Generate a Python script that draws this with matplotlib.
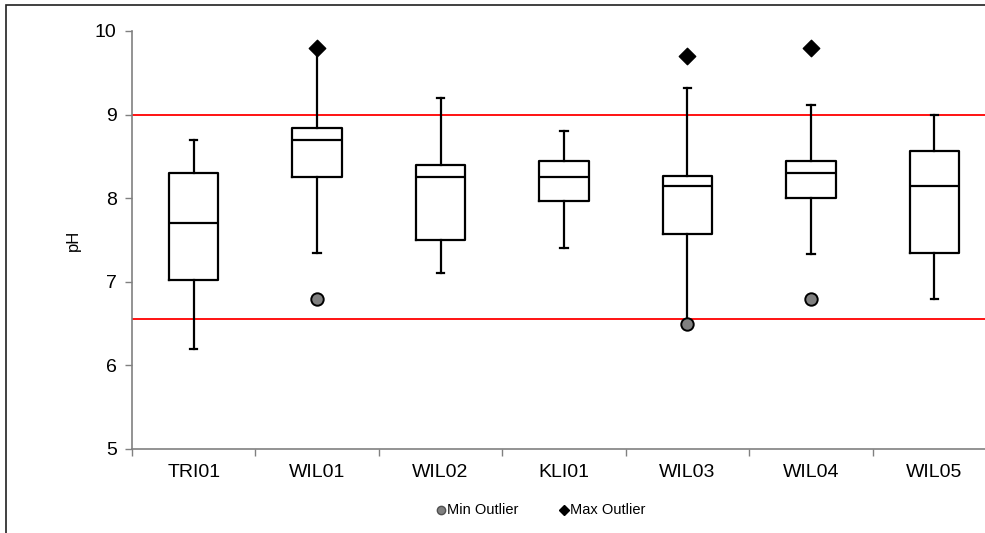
import matplotlib

matplotlib.use("Agg")
import matplotlib.pyplot as plt
from matplotlib.patches import Rectangle

plt.rcParams["font.family"] = ["Liberation Sans", "DejaVu Sans"]

sites = ["TRI01", "WIL01", "WIL02", "KLI01", "WIL03", "WIL04", "WIL05"]
whisk_lo = [6.2, 7.35, 7.1, 7.4, 6.5, 7.33, 6.8]
q1 = [7.02, 8.25, 7.5, 7.97, 7.57, 8.0, 7.35]
median = [7.7, 8.7, 8.25, 8.25, 8.14, 8.3, 8.14]
q3 = [8.3, 8.84, 8.4, 8.45, 8.27, 8.45, 8.57]
whisk_hi = [8.7, 9.8, 9.2, 8.8, 9.32, 9.12, 9.0]
min_outlier = [None, 6.8, None, None, 6.5, 6.8, None]
max_outlier = [None, 9.8, None, None, 9.7, 9.8, None]
limit_lo, limit_hi = 6.55, 9.0

fig = plt.figure(figsize=(9.85, 5.33), dpi=100)
fig.patches.append(Rectangle((6 / 985, -0.1), 1.2, 1.1 - 5 / 533, transform=fig.transFigure,
                             fill=False, edgecolor="#202020", linewidth=1.2))
ax = fig.add_axes([132 / 985, 84 / 533, 864 / 985, 418 / 533])

stats = [
    {"med": m, "q1": a, "q3": b, "whislo": lo, "whishi": hi, "fliers": []}
    for m, a, b, lo, hi in zip(median, q1, q3, whisk_lo, whisk_hi)
]
pos = list(range(len(sites)))
line = dict(color="black", linewidth=1.6)
ax.bxp(stats, positions=pos, widths=0.4, showfliers=False, capwidths=0.06,
       boxprops=line, whiskerprops=line, capprops=line, medianprops=line, zorder=3)

ax.axhline(limit_hi, color="#ff0000", linewidth=1.3, zorder=2)
ax.axhline(limit_lo, color="#ff0000", linewidth=1.3, zorder=2)

xs = [p for p, v in zip(pos, min_outlier) if v is not None]
ys = [v for v in min_outlier if v is not None]
ax.scatter(xs, ys, s=80, marker="o", color="#808080", edgecolor="black", linewidth=1.4, zorder=4)
xs = [p for p, v in zip(pos, max_outlier) if v is not None]
ys = [v for v in max_outlier if v is not None]
ax.scatter(xs, ys, s=70, marker="D", color="black", zorder=4)

ax.set_xlim(-0.5, len(sites) - 0.5)
ax.set_ylim(5, 10)
ax.set_yticks([5, 6, 7, 8, 9, 10])
ax.set_xticks(pos)
ax.set_xticklabels(sites)
ax.set_xticks([p + 0.5 for p in pos[:-1]] + [-0.5], minor=True)
ax.tick_params(axis="x", which="major", length=0, pad=11, labelsize=14)
ax.tick_params(axis="x", which="minor", length=5, color="#808080", width=1)
ax.tick_params(axis="y", length=5, color="#808080", width=1, pad=6, labelsize=14)
ax.set_ylabel("pH", fontsize=12, labelpad=10)
for s in ["top", "right"]:
    ax.spines[s].set_visible(False)
for s in ["left", "bottom"]:
    ax.spines[s].set_color("#808080")
    ax.spines[s].set_linewidth(1.2)

# legend
fig.lines.append(plt.Line2D([441 / 985], [1 - 510 / 533], marker="o", markersize=6, color="#808080",
                            markeredgecolor="#505050", transform=fig.transFigure))
fig.text(447 / 985, 1 - 510 / 533, "Min Outlier", fontsize=10.5, va="center", ha="left")
fig.lines.append(plt.Line2D([564 / 985], [1 - 510 / 533], marker="D", markersize=5, color="black",
                            transform=fig.transFigure))
fig.text(570 / 985, 1 - 510 / 533, "Max Outlier", fontsize=10.5, va="center", ha="left")

fig.savefig("out.png", dpi=100)
